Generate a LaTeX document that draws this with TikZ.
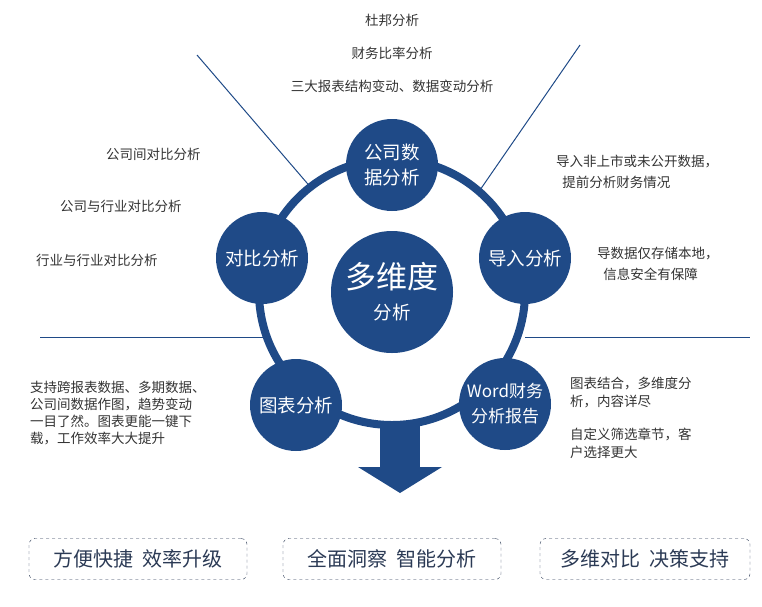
\documentclass[tikz,border=0pt]{standalone}
\usepackage{fontspec}
\newfontfamily\cjk{Noto Sans CJK SC}
\definecolor{db}{HTML}{1F4A87}
\definecolor{tx}{HTML}{333333}
\definecolor{bt}{HTML}{2B3A55}
\begin{document}
\begin{tikzpicture}[x=1pt,y=-1pt,
  circ/.style={circle,fill=db,minimum size=92pt,inner sep=0pt,text=white,font=\cjk\fontsize{18.5}{25}\selectfont,align=center},
  note/.style={text=tx,font=\cjk\fontsize{13.5}{19}\selectfont,align=left,inner sep=0pt},
  bbox/.style={draw=bt,dashed,rounded corners=6pt,minimum width=218pt,minimum height=41pt,text=bt,font=\cjk\fontsize{20}{22}\selectfont},
  gline/.style={draw=db,line width=1pt}]
\useasboundingbox (0,0) rectangle (762,606);
\coordinate (c) at (392,292);
\coordinate (l1a) at (197,55); \coordinate (l1b) at (313,190);
\coordinate (l2a) at (580,45); \coordinate (l2b) at (480,190);
\coordinate (h1a) at (40,337); \coordinate (h1b) at (270,337);
\coordinate (h2a) at (525,337); \coordinate (h2b) at (750,337);
\draw[gline] (l1a)--(l1b); \draw[gline] (l2a)--(l2b);
\draw[gline] (h1a)--(h1b); \draw[gline] (h2a)--(h2b);
\draw[db,line width=8pt] (c) circle (133);
\fill[db] (380,425) rectangle (420,468);
\fill[db] (358,467) -- (442,467) -- (400,493) -- cycle;
\node[circ,minimum size=122pt] (m) at (c) {{\fontsize{31}{36}\selectfont 多维度}\\[6pt]分析};
\node[circ] (a) at (392,165) {公司数\\据分析};
\node[circ] (b) at (262,258) {对比分析};
\node[circ] (d) at (525,258) {导入分析};
\node[circ] (e) at (296,405) {图表分析};
\node[circ,font=\cjk\fontsize{17}{25}\selectfont] (f) at (505,404) {Word财务\\分析报告};
\node[note,anchor=north] (t1) at (392,14) {杜邦分析};
\node[note,anchor=north] (t2) at (392,47) {财务比率分析};
\node[note,anchor=north] (t3) at (392,80) {三大报表结构变动、数据变动分析};
\node[note,anchor=west] (n1) at (106,154) {公司间对比分析};
\node[note,anchor=west] (n2) at (60,206) {公司与行业对比分析};
\node[note,anchor=west] (n3) at (36,260) {行业与行业对比分析};
\node[note,anchor=north west,font=\cjk\fontsize{13.5}{21}\selectfont] (r1) at (556,155) {导入非上市或未公开数据，\\\ \ 提前分析财务情况};
\node[note,anchor=north west,font=\cjk\fontsize{13.5}{21}\selectfont] (r2) at (597,247) {导数据仅存储本地，\\\ \ 信息安全有保障};
\node[note,anchor=north west,font=\cjk\fontsize{13.5}{17}\selectfont] (lb) at (30,381) {支持跨报表数据、多期数据、\\公司间数据作图，趋势变动\\一目了然。图表更能一键下\\载，工作效率大大提升};
\node[note,anchor=north west,font=\cjk\fontsize{13.5}{18}\selectfont] (rb1) at (570,377) {图表结合，多维度分\\析，内容详尽};
\node[note,anchor=north west,font=\cjk\fontsize{13.5}{18}\selectfont] (rb2) at (570,428) {自定义筛选章节，客\\户选择更大};
\node[bbox] (b1) at (138,559) {方便快捷\ \ 效率升级};
\node[bbox] (b2) at (392,559) {全面洞察\ \ 智能分析};
\node[bbox,minimum width=210pt] (b3) at (645,559) {多维对比\ \ 决策支持};
\end{tikzpicture}
\end{document}
